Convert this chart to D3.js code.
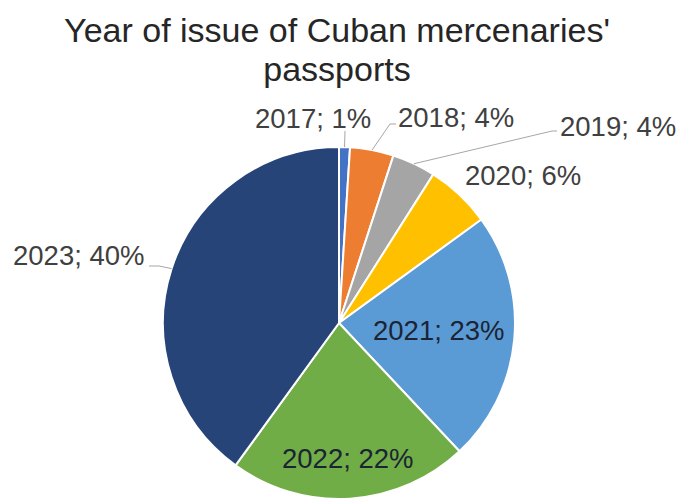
<!DOCTYPE html>
<html>
<head>
<meta charset="utf-8">
<script src="https://cdn.jsdelivr.net/npm/d3@7"></script>
<style>
  body { margin: 0; background: #fff; }
  text { font-family: "Liberation Sans", Arial, sans-serif; }
</style>
</head>
<body>
<script>
// pie chart: year of issue of passports

// data
var years = ["2017", "2018", "2019", "2020", "2021", "2022", "2023"];
var shares = [1, 4, 4, 6, 23, 22, 40];
var colors = ["#4472C4", "#ED7D31", "#A5A5A5", "#FFC000", "#5B9BD5", "#70AD47", "#264478"];
var titleLines = ["Year of issue of Cuban mercenaries'", "passports"];

// label placement (text start x, baseline y, inside slice or not, leader elbow)
var labelPos = [
  {x: 255, y: 128, inside: false, leader: [[345, 131]]},
  {x: 398, y: 127, inside: false, leader: [[396, 124], [390, 124]]},
  {x: 560, y: 136, inside: false, leader: [[557, 131], [552, 131]]},
  {x: 465, y: 185, inside: false, leader: null},
  {x: 373, y: 340, inside: true, leader: null},
  {x: 282, y: 468, inside: true, leader: null},
  {x: 13, y: 265, inside: false, leader: [[149, 266], [159, 266]]}
];

var w = 683;
var h = 500;
var cx = 339, cy = 323, r = 176;

var svg = d3.select("body")
  .append("svg")
  .attr("width", w)
  .attr("height", h);

// title
svg.selectAll("text.title")
  .data(titleLines)
  .enter()
  .append("text")
  .attr("class", "title")
  .attr("x", 337)
  .attr("y", function(d, i) { return 42 + i * 39; })
  .attr("text-anchor", "middle")
  .style("font-size", "34px")
  .attr("fill", "#262626")
  .text(function(d) { return d; });

var slices = years.map(function(y, i) { return {year: y, value: shares[i], i: i}; });

var pie = d3.pie()
  .sort(null)
  .value(function(d) { return d.value; });

var arc = d3.arc().innerRadius(0).outerRadius(r);
var edge = d3.arc().innerRadius(r).outerRadius(r);

var g = svg.append("g")
  .attr("transform", "translate(" + cx + "," + cy + ")");

var arcs = pie(slices);

g.selectAll("path")
  .data(arcs)
  .enter()
  .append("path")
  .attr("d", arc)
  .attr("fill", function(d) { return colors[d.data.i]; })
  .attr("stroke", "#fff")
  .attr("stroke-width", 2);

// leader lines
var line = d3.line();
arcs.forEach(function(d) {
  var lp = labelPos[d.data.i];
  if (!lp.leader) return;
  var c = edge.centroid(d);
  var pts = lp.leader.concat([[cx + c[0], cy + c[1]]]);
  svg.append("path")
    .attr("d", line(pts))
    .attr("fill", "none")
    .attr("stroke", "#a6a6a6")
    .attr("stroke-width", 1);
});

// labels
svg.selectAll("text.lbl")
  .data(arcs)
  .enter()
  .append("text")
  .attr("class", "lbl")
  .attr("x", function(d) { return labelPos[d.data.i].x; })
  .attr("y", function(d) { return labelPos[d.data.i].y; })
  .style("font-size", "27.5px")
  .attr("fill", function(d) { return labelPos[d.data.i].inside ? "#1c2433" : "#404040"; })
  .text(function(d) { return d.data.year + "; " + d.data.value + "%"; });
</script>
</body>
</html>
